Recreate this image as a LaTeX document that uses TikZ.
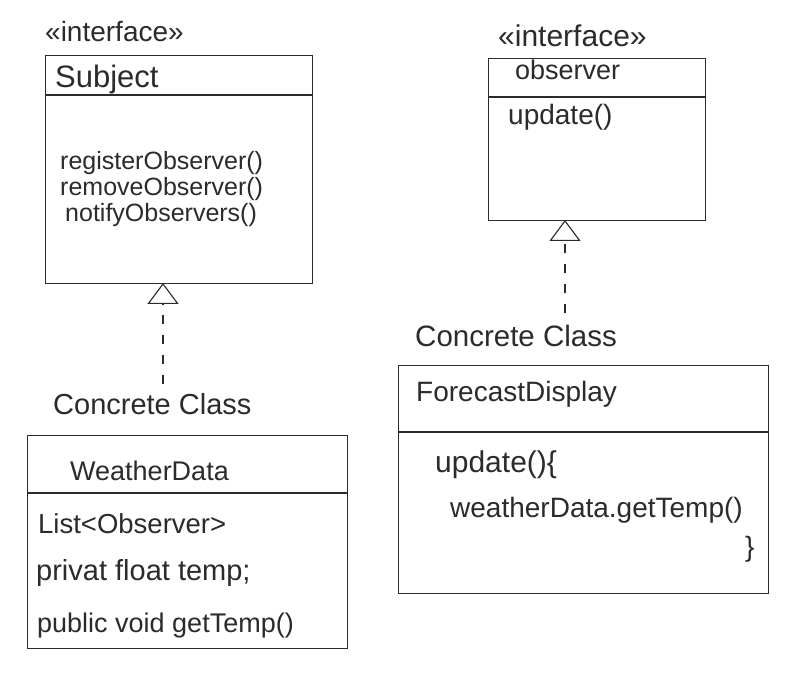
\documentclass[tikz,border=0pt]{standalone}
\usepackage{fontspec}
\setmainfont{Liberation Sans}
\usetikzlibrary{arrows.meta}
\definecolor{ink}{HTML}{2B2B2B}
\begin{document}
\begin{tikzpicture}[x=1pt,y=-1pt,
  box/.style={draw=ink, line width=1.1pt, inner sep=0pt, anchor=north west},
  sep/.style={draw=ink, line width=1.1pt},
  lbl/.style={anchor=base west, inner sep=0pt, text=ink},
  fs/.style={font=\fontsize{#1}{#1}\selectfont},
  real/.style={draw=ink, line width=1.1pt, dash pattern=on 9pt off 11pt,
    -{Triangle[open, length=21pt, width=31pt, line width=1.1pt]}}]
\useasboundingbox[fill=white] (0,0) rectangle (801,684);

% ---- Subject interface
\node[box, minimum width=267pt, minimum height=228pt] (subj) at (45,55) {};
\draw[sep] (subj.west |- 0,95) -- (subj.east |- 0,95);
\node[lbl, fs=28] (subjst) at (45,42) {«interface»};
\node[lbl, fs=31] (subjname) at (55,88) {Subject};
\node[lbl, fs=25] (m1) at (60,170) {registerObserver()};
\node[lbl, fs=25] (m2) at (60,196) {removeObserver()};
\node[lbl, fs=25] (m3) at (65,222) {notifyObservers()};

% ---- Observer interface
\node[box, minimum width=217pt, minimum height=162pt] (obs) at (488,58) {};
\draw[sep] (obs.west |- 0,97) -- (obs.east |- 0,97);
\node[lbl, fs=30] (obsst) at (498,47) {«interface»};
\node[lbl, fs=27] (obsname) at (515,80) {observer};
\node[lbl, fs=28] (obsm) at (508,125) {update()};

% ---- WeatherData
\node[lbl, fs=29] (ccL) at (53,415) {Concrete Class};
\node[box, minimum width=320pt, minimum height=213pt] (wd) at (27,435) {};
\draw[sep] (wd.west |- 0,493) -- (wd.east |- 0,493);
\node[lbl, fs=27] (wdname) at (70,481) {WeatherData};
\node[lbl, fs=27.5] (a1) at (38,533) {List<Observer>};
\node[lbl, fs=29] (a2) at (36,580) {privat float temp;};
\node[lbl, fs=27] (a3) at (37,632) {public void getTemp()};

% ---- ForecastDisplay
\node[lbl, fs=29.5] (ccR) at (415,347) {Concrete Class};
\node[box, minimum width=370pt, minimum height=228pt] (fd) at (398,365) {};
\draw[sep] (fd.west |- 0,432) -- (fd.east |- 0,432);
\node[lbl, fs=28] (fdname) at (416,402) {ForecastDisplay};
\node[lbl, fs=30] (f1) at (435,473) {update()\{};
\node[lbl, fs=28] (f2) at (450,518) {weatherData.getTemp()};
\node[lbl, fs=28] (f3) at (745,556) {\}};

% ---- realizations
\coordinate (subjTip) at (163,283);
\coordinate (obsTip) at (565,220);
\draw[real] (ccL.north -| subjTip) ++(0,-10) -- (subjTip);
\draw[real] (ccR.north -| obsTip) ++(0,-12) -- (obsTip);
\end{tikzpicture}
\end{document}
